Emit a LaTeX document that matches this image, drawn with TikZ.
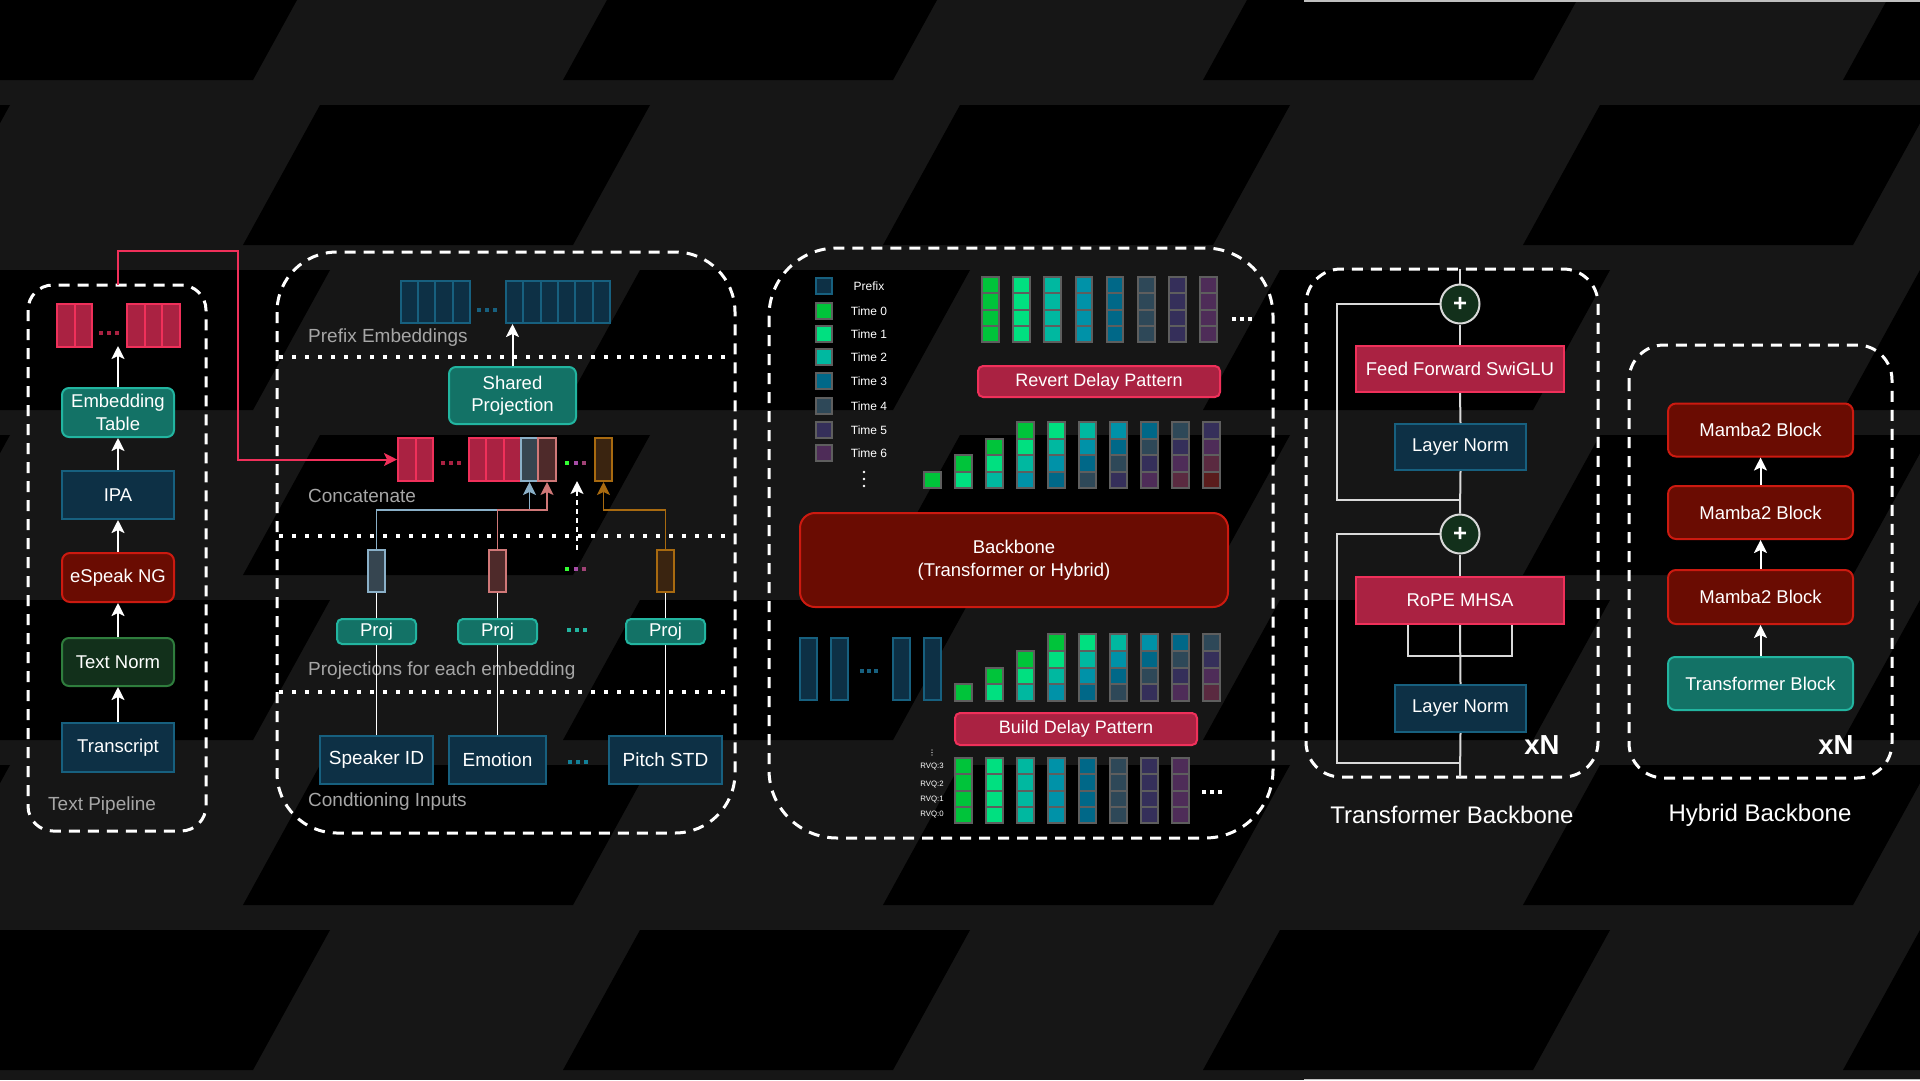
\documentclass[tikz,border=0pt]{standalone}
\usepackage{fontspec}
\setmainfont{Liberation Sans}
\usetikzlibrary{arrows.meta}
\definecolor{bgG}{HTML}{161616}
\definecolor{tealF}{HTML}{137266}
\definecolor{tealB}{HTML}{22B5A0}
\definecolor{blueF}{HTML}{0D3045}
\definecolor{blueB}{HTML}{17607F}
\definecolor{redF}{HTML}{6A0C02}
\definecolor{redB}{HTML}{CC1A10}
\definecolor{grnF}{HTML}{12301B}
\definecolor{grnB}{HTML}{2F7D3D}
\definecolor{crimF}{HTML}{AA2242}
\definecolor{crimB}{HTML}{F0305A}
\definecolor{labG}{HTML}{A6A6A6}
\definecolor{lineG}{HTML}{D9D9D9}
\definecolor{cellB}{HTML}{5E5E5E}
\definecolor{spkF}{HTML}{364550}
\definecolor{spkB}{HTML}{8AB0C8}
\definecolor{emoF}{HTML}{4E2A2A}
\definecolor{emoB}{HTML}{D07878}
\definecolor{pitF}{HTML}{3A2410}
\definecolor{pitB}{HTML}{A86A10}
\definecolor{c0}{HTML}{00C43A}
\definecolor{c1}{HTML}{00E080}
\definecolor{c2}{HTML}{00B8A0}
\definecolor{c3}{HTML}{0092A8}
\definecolor{c4}{HTML}{006888}
\definecolor{c5}{HTML}{2E4858}
\definecolor{c6}{HTML}{352F5A}
\definecolor{c7}{HTML}{4E2C58}
\definecolor{c8}{HTML}{5A2A40}
\definecolor{c9}{HTML}{5A1C1C}
\newcommand\fsN{\fontsize{18.5}{22.5}\selectfont}
\newcommand\fsM{\fontsize{18}{22}\selectfont}
\newcommand\fsL{\fontsize{19}{22}\selectfont}
\newcommand\fsS{\fontsize{12}{14}\selectfont}
\newcommand\fsT{\fontsize{7.8}{9}\selectfont}
\newcommand\fsB{\fontsize{24}{28}\selectfont}
\newcommand\fsX{\fontsize{27.5}{30}\selectfont\bfseries}
\newcommand\sqdot[3]{\fill[#1] ({#2-2},{#3-2}) rectangle ++(4,4);}
\tikzset{
  box/.style={line width=2pt, inner sep=0pt, text=white, align=center, font=\fsN},
  tealbox/.style={box, draw=tealB, fill=tealF, rounded corners=7pt},
  bluebox/.style={box, draw=blueB, fill=blueF},
  redbox/.style={box, draw=redB, fill=redF, rounded corners=8pt},
  grnbox/.style={box, draw=grnB, fill=grnF, rounded corners=7pt},
  crimbox/.style={box, draw=crimB, fill=crimF},
  tok/.style={line width=2pt, inner sep=0pt, minimum height=43pt},
  redtok/.style={tok, draw=crimB, fill=crimF, minimum width=17.5pt},
  pretok/.style={line width=2pt, inner sep=0pt, minimum height=42pt, draw=blueB, fill=blueF, minimum width=17.3pt},
  cell/.style={draw=cellB, line width=2pt},
  tip/.style={-{Stealth[length=13pt,width=13pt,inset=3pt]}},
  arr/.style={draw=white, line width=2pt, tip},
  wire/.style={draw=white, line width=1.6pt},
  tline/.style={draw=lineG, line width=2pt},
  panel/.style={draw=white, line width=3pt, dash pattern=on 11pt off 8pt},
  dotline/.style={draw=white, line width=3.5pt, dash pattern=on 3.5pt off 9.5pt},
  lbl/.style={text=labG, font=\fsL, inner sep=0pt, anchor=west},
  legtxt/.style={text=white, font=\fsS, inner sep=0pt},
  plus/.style={circle, draw=lineG, fill=grnF, line width=2pt, minimum size=39pt, inner sep=0pt, text=white, font=\fontsize{24}{24}\selectfont\bfseries},
  title/.style={text=white, font=\fsB, inner sep=0pt},
  xn/.style={text=white, font=\fsX, inner sep=0pt}
}
\begin{document}
\begin{tikzpicture}[x=1pt,y=-1pt]
\useasboundingbox (0,0) rectangle (1920,1080);
% ---------- background ----------
\begin{scope}
\clip (0,0) rectangle (1920,1080);
\fill[bgG] (0,0) rectangle (1920,1080);
\foreach \r in {0,...,7}{
  \foreach \c in {-1,...,3}{
    \pgfmathsetmacro\xo{\c*640+mod(\r,2)*320}
    \pgfmathsetmacro\yo{-60+\r*165}
    \fill[black] (\xo,\yo) -- ++(330,0) -- ++(-77,140) -- ++(-330,0) -- cycle;
  }
}
\end{scope}
\draw[draw=white!75!black, line width=1.5pt] (1304,0.75) -- (1920,0.75);
\draw[draw=white!75!black, line width=1.5pt] (1304,1079.25) -- (1920,1079.25);

% ---------- panels ----------
\draw[panel, rounded corners=25pt] (28,285) rectangle (206,831);
\draw[panel, rounded corners=60pt] (277,252) rectangle (735,833);
\draw[panel, rounded corners=68pt] (769,248) rectangle (1273,838);
\draw[panel, rounded corners=35pt] (1306,269) rectangle (1598,777);
\draw[panel, rounded corners=35pt] (1629,345) rectangle (1892,778);

% ---------- text pipeline ----------
\node[redtok] (e1) at (65.75,325) {};
\node[redtok] (e2) at (83.25,325) {};
\node[redtok] (e3) at (135.75,325) {};
\node[redtok] (e4) at (153.25,325) {};
\node[redtok] (e5) at (170.75,325) {};
\sqdot{crimF}{101}{333}\sqdot{crimF}{109}{333}\sqdot{crimF}{117}{333}
\coordinate (tokbot) at (118,346);
\node[tealbox, minimum width=112pt, minimum height=49pt] (emb) at (118,412.5) {Embedding\\Table};
\node[bluebox, minimum width=112pt, minimum height=48pt] (ipa) at (118,495) {IPA};
\node[redbox, minimum width=112pt, minimum height=49pt] (esp) at (118,577.5) {eSpeak NG};
\node[grnbox, minimum width=112pt, minimum height=48pt] (tn) at (118,662) {Text Norm};
\node[bluebox, minimum width=112pt, minimum height=49pt] (tr) at (118,747.5) {Transcript};
\draw[arr] (tr.north) -- (tn.south);
\draw[arr] (tn.north) -- (esp.south);
\draw[arr] (esp.north) -- (ipa.south);
\draw[arr] (ipa.north) -- (emb.south);
\draw[arr] (emb.north) -- (tokbot);
\node[lbl] (lTP) at (48,806) {Text Pipeline};

% ---------- conditioning panel ----------
\draw[dotline] (279,357) -- (733,357);
\draw[dotline] (279,536) -- (733,536);
\draw[dotline] (279,692) -- (733,692);
% prefix embeddings
\foreach \i/\x in {1/409.6,2/426.9,3/444.1,4/461.4}{\node[pretok] (pL\i) at (\x,302) {};}
\foreach \i/\x in {1/514.7,2/532,3/549.3,4/566.7,5/584,6/601.3}{\node[pretok] (pR\i) at (\x,302) {};}
\sqdot{blueB}{479}{310}\sqdot{blueB}{487}{310}\sqdot{blueB}{495}{310}
\node[lbl] (lPE) at (308,338) {Prefix Embeddings};
\node[tealbox, minimum width=127pt, minimum height=57pt] (sp) at (512.5,395.5) {Shared\\Projection};
\draw[arr] (sp.north) -- (sp.north |- pR1.south);
% concatenate row
\node[redtok] (c1) at (406.75,459.5) {};
\node[redtok] (c2) at (424.25,459.5) {};
\node[redtok, minimum width=17.3pt] (c3) at (477.6,459.5) {};
\node[redtok, minimum width=17.3pt] (c4) at (494.9,459.5) {};
\node[redtok, minimum width=17.3pt] (c5) at (512.3,459.5) {};
\node[tok, draw=spkB, fill=spkF, minimum width=17pt] (cs) at (529.5,459.5) {};
\node[tok, draw=emoB, fill=emoF, minimum width=18pt] (ce) at (547,459.5) {};
\node[tok, draw=pitB, fill=pitF, minimum width=17pt] (cp) at (603.5,459.5) {};
\sqdot{crimF}{443}{463}\sqdot{crimF}{451}{463}\sqdot{crimF}{459}{463}
\sqdot{green!80!white}{567}{463}\sqdot{violet!70!white}{576}{463}\sqdot{magenta!60!black}{584}{463}
\node[lbl] (lCC) at (308,496) {Concatenate};
% red connector from text pipeline
\coordinate (tpTop) at (118,285);
\draw[draw=crimB, line width=2pt, -{Stealth[length=13pt,width=13pt,inset=3pt]}] (tpTop) |- (238,251) |- (c1.west);
% tokens
\node[tok, draw=spkB, fill=spkF, minimum width=17pt, minimum height=42pt] (tS) at (376.5,571) {};
\node[tok, draw=emoB, fill=emoF, minimum width=17pt, minimum height=42pt] (tE) at (497.5,571) {};
\node[tok, draw=pitB, fill=pitF, minimum width=17pt, minimum height=42pt] (tP) at (665.5,571) {};
\sqdot{green!80!white}{567}{569}\sqdot{violet!70!white}{576}{569}\sqdot{magenta!60!black}{584}{569}
% projections
\node[tealbox, rounded corners=5pt, minimum width=79pt, minimum height=25pt] (prS) at (376.5,631.5) {Proj};
\node[tealbox, rounded corners=5pt, minimum width=79pt, minimum height=25pt] (prE) at (497.5,631.5) {Proj};
\node[tealbox, rounded corners=5pt, minimum width=79pt, minimum height=25pt] (prP) at (665.5,631.5) {Proj};
\sqdot{tealB}{569}{630}\sqdot{tealB}{577}{630}\sqdot{tealB}{585}{630}
\node[lbl] (lPR) at (308,671) {Projections for each embedding};
% inputs
\node[bluebox, font=\fontsize{19}{22}\selectfont, minimum width=113pt, minimum height=48pt] (inS) at (376.5,760) {Speaker ID};
\node[bluebox, font=\fontsize{19}{22}\selectfont, minimum width=97pt, minimum height=48pt] (inE) at (497.5,760) {Emotion};
\node[bluebox, font=\fontsize{19}{22}\selectfont, minimum width=113pt, minimum height=48pt] (inP) at (665.5,760) {Pitch STD};
\sqdot{blueB!80!cyan}{570}{762}\sqdot{blueB!80!cyan}{578}{762}\sqdot{blueB!80!cyan}{586}{762}
\node[lbl] (lCI) at (308,802) {Condtioning Inputs};
% wires
\draw[wire] (inS.north) -- (prS.south);
\draw[wire] (inE.north) -- (prE.south);
\draw[wire] (inP.north) -- (prP.south);
\draw[wire] (prS.north) -- (tS.south);
\draw[wire] (prE.north) -- (tE.south);
\draw[wire] (prP.north) -- (tP.south);
\coordinate (jy) at (0,510);
\draw[draw=spkB, line width=1.6pt, -{Stealth[length=13pt,width=13pt,inset=3pt]}] (tS.north) |- (jy -| cs.south) -- (cs.south);
\draw[draw=emoB, line width=1.6pt, -{Stealth[length=13pt,width=13pt,inset=3pt]}] (tE.north) |- (jy -| ce.south) -- (ce.south);
\draw[draw=pitB, line width=1.6pt, -{Stealth[length=13pt,width=13pt,inset=3pt]}] (tP.north) |- (jy -| cp.south) -- (cp.south);
\coordinate (dA) at (577,550);
\coordinate (dB) at (577,481);
\draw[draw=white, line width=1.6pt, dash pattern=on 5pt off 4pt, -{Stealth[length=13pt,width=13pt,inset=3pt]}] (dA) -- (dB);

% ---------- middle panel ----------
% legend
\draw[line width=2pt, draw=blueB, fill=blueF] (816,278) rectangle ++(16,16);
\node[legtxt] (lg0) at (869,286) {Prefix};
\foreach \yy/\cc/\tt in {311/c0/0,334/c1/1,357/c2/2,381/c4/3,406/c5/4,430/c6/5,453/c7/6}{
  \draw[cell, fill=\cc] (816,\yy-8) rectangle ++(16,16);
  \node[legtxt] at (869,\yy) {Time \tt};
}
\foreach \yy in {472,479,486}{\fill[white] (864,\yy) circle (1.4);}
% top grid (reverted)
\foreach \j in {0,...,7}{
  \foreach \i in {0,...,3}{
    \draw[cell, fill=c\j] ({982+31.2*\j},{277+16.25*\i}) rectangle ++(16.5,16.25);
  }
}
\sqdot{white}{1234}{319}\sqdot{white}{1242}{319}\sqdot{white}{1250}{319}
\node[crimbox, rounded corners=5pt, font=\fsM, minimum width=242pt, minimum height=31pt] (rdp) at (1099,381.5) {Revert Delay Pattern};
% output staircase
\foreach \j in {0,...,9}{
  \foreach \i in {0,...,3}{
    \pgfmathtruncatemacro\k{\j-3+\i}
    \ifnum\k<0 \else
      \draw[cell, fill=c\k] ({924+31*\j},{422+16.5*\i}) rectangle ++(17,16.5);
    \fi
  }
}
\node[redbox, rounded corners=15pt, minimum width=428pt, minimum height=94pt] (bb) at (1014,560) {Backbone\\(Transformer or Hybrid)};
% prefix bars
\foreach \xx in {800,831,893,924}{\draw[line width=2pt, draw=blueB, fill=blueF] (\xx,638) rectangle ++(17,62);}
\sqdot{blueB}{862}{671}\sqdot{blueB}{869}{671}\sqdot{blueB}{876}{671}
% input staircase
\foreach \j in {0,...,8}{
  \foreach \i in {0,...,3}{
    \pgfmathtruncatemacro\k{\j-3+\i}
    \ifnum\k<0 \else
      \draw[cell, fill=c\k] ({955+31*\j},{634+16.75*\i}) rectangle ++(17,16.75);
    \fi
  }
}
\node[crimbox, rounded corners=5pt, font=\fsM, minimum width=242pt, minimum height=32pt] (bdp) at (1076,729) {Build Delay Pattern};
% codes grid
\foreach \j in {0,...,7}{
  \foreach \i in {0,...,3}{
    \draw[cell, fill=c\j] ({955+31*\j},{758+16.25*\i}) rectangle ++(17,16.25);
  }
}
\foreach \yy in {750,752.5,755}{\fill[white] (932,\yy) circle (0.6);}
\node[legtxt, font=\fsT] (q3) at (932,767) {RVQ:3};
\node[legtxt, font=\fsT] (q2) at (932,784) {RVQ:2};
\node[legtxt, font=\fsT] (q1) at (932,800) {RVQ:1};
\node[legtxt, font=\fsT] (q0) at (932,815) {RVQ:0};
\sqdot{white}{1204}{792}\sqdot{white}{1212}{792}\sqdot{white}{1220}{792}

% ---------- transformer backbone ----------
\coordinate (tTop) at (1460,269);
\coordinate (tBot) at (1460,777);
\node[plus] (p1) at (1460,304) {+};
\node[crimbox, minimum width=208pt, minimum height=46pt] (ff) at (1460,369) {Feed Forward SwiGLU};
\node[bluebox, minimum width=131pt, minimum height=46pt] (ln1) at (1460.5,447) {Layer Norm};
\node[plus] (p2) at (1460,534) {+};
\node[crimbox, minimum width=208pt, minimum height=47pt] (rope) at (1460,600.5) {RoPE MHSA};
\node[bluebox, minimum width=131pt, minimum height=47pt] (ln2) at (1460.5,708.5) {Layer Norm};
\draw[tline] (tTop) -- (p1.north);
\draw[tline] (p1.south) -- (ff.north);
\draw[tline] (ff.south) -- (ln1.north);
\draw[tline] (ln1.south) -- (p2.north);
\draw[tline] (p2.south) -- (rope.north);
\draw[tline] (rope.south) -- (ln2.north);
\draw[tline] (ln2.south) -- (tBot);
\draw[tline] ([xshift=-52pt]rope.south) -- ++(0,31) -- ++(104,0) -- ++(0,-31);
\coordinate (s1) at (1460,500);
\coordinate (s2) at (1460,763);
\draw[tline] (p1.west) -| (1337,500) -- (s1);
\draw[tline] (p2.west) -| (1337,763) -- (s2);
\node[xn] (xn1) at (1542,745) {xN};
\node[title] (tT) at (1452,815) {Transformer Backbone};

% ---------- hybrid backbone ----------
\node[redbox, minimum width=185pt, minimum height=53pt] (m1) at (1760.5,430) {Mamba2 Block};
\node[redbox, minimum width=185pt, minimum height=53pt] (m2) at (1760.5,512.5) {Mamba2 Block};
\node[redbox, minimum width=185pt, minimum height=54pt] (m3) at (1760.5,597) {Mamba2 Block};
\node[tealbox, minimum width=185pt, minimum height=53pt] (tb) at (1760.5,683.5) {Transformer Block};
\draw[arr] (tb.north) -- (m3.south);
\draw[arr] (m3.north) -- (m2.south);
\draw[arr] (m2.north) -- (m1.south);
\node[xn] (xn2) at (1836,745) {xN};
\node[title] (tH) at (1760,815) {Hybrid Backbone};
\end{tikzpicture}
\end{document}
